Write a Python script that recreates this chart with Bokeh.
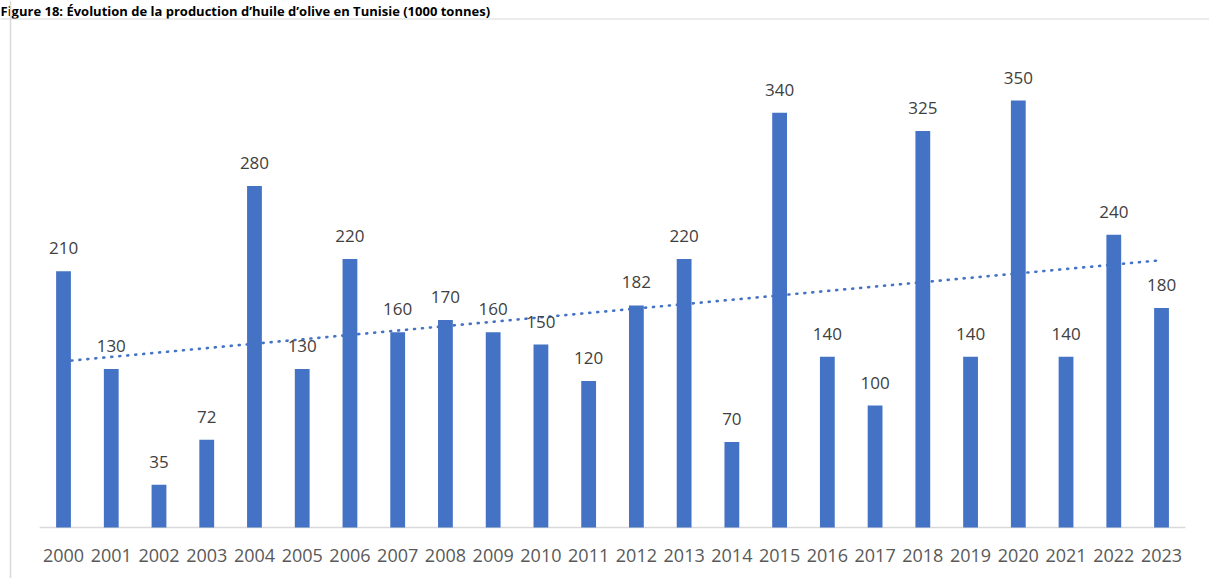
import numpy as np
from bokeh.plotting import figure
from bokeh.models import Span, Label, ColumnDataSource
from bokeh.embed import file_html
from bokeh.resources import INLINE
from bokeh.core.properties import value

title = "Figure 18: Évolution de la production d’huile d’olive en Tunisie (1000 tonnes)"
years = [2000, 2001, 2002, 2003, 2004, 2005, 2006, 2007, 2008, 2009, 2010, 2011,
         2012, 2013, 2014, 2015, 2016, 2017, 2018, 2019, 2020, 2021, 2022, 2023]
production = [210, 130, 35, 72, 280, 130, 220, 160, 170, 160, 150, 120,
              182, 220, 70, 340, 140, 100, 325, 140, 350, 140, 240, 180]
year_labels = [str(y) for y in years]
value_labels = [str(v) for v in production]

BLUE = "#4472C4"
FONT = "Open Sans"

src = ColumnDataSource(dict(x=years, top=production, vlab=value_labels,
                            ylab=year_labels, zero=[0] * len(years)))

p = figure(width=1209, height=578, x_range=(1998.680, 2024.005), y_range=(-41.8, 431.97),
           output_backend="svg", toolbar_location=None,
           x_axis_type=None, y_axis_type=None, min_border=0)
p.outline_line_color = None
p.background_fill_color = "white"
p.border_fill_color = "white"

# title
p.add_layout(Label(x=0, y=1, x_units="canvas", y_units="canvas", text=title,
                   text_baseline="top", text_align="left", text_font=FONT,
                   text_font_style="bold", text_font_size="13px", text_color="black"))

# border of the chart area (left and top only visible)
p.add_layout(Span(location=10, location_units="canvas", dimension="height",
                  line_color="#d9d9d9", line_width=1.5))
p.add_layout(Span(location=18.5, location_units="canvas", dimension="width",
                  line_color="#d9d9d9", line_width=1))

# baseline
p.line(x=[years[0] - 0.5, years[-1] + 0.5], y=[0, 0], line_color="#d9d9d9", line_width=1.5)

p.vbar(x="x", top="top", width=0.31, source=src, fill_color=BLUE, line_color=None)

# linear trend
coef = np.polyfit(np.array(years, dtype=float), np.array(production, dtype=float), 1)
tx = [years[0], years[-1]]
ty = [coef[0] * x + coef[1] for x in tx]
p.line(x=tx, y=ty, line_color=BLUE, line_width=2.6, line_dash="1 7", line_cap="round")

p.text(x="x", y="top", text="vlab", source=src, text_align="center",
       text_baseline="alphabetic", y_offset=-23, text_font=value(FONT),
       text_font_size="17px", text_color="#404040")
p.text(x="x", y="zero", text="ylab", source=src, text_align="center",
       text_baseline="alphabetic", y_offset=28, text_font=value(FONT),
       text_font_size="18px", text_color="#595959")

open("out.html", "w").write(file_html(p, INLINE))
